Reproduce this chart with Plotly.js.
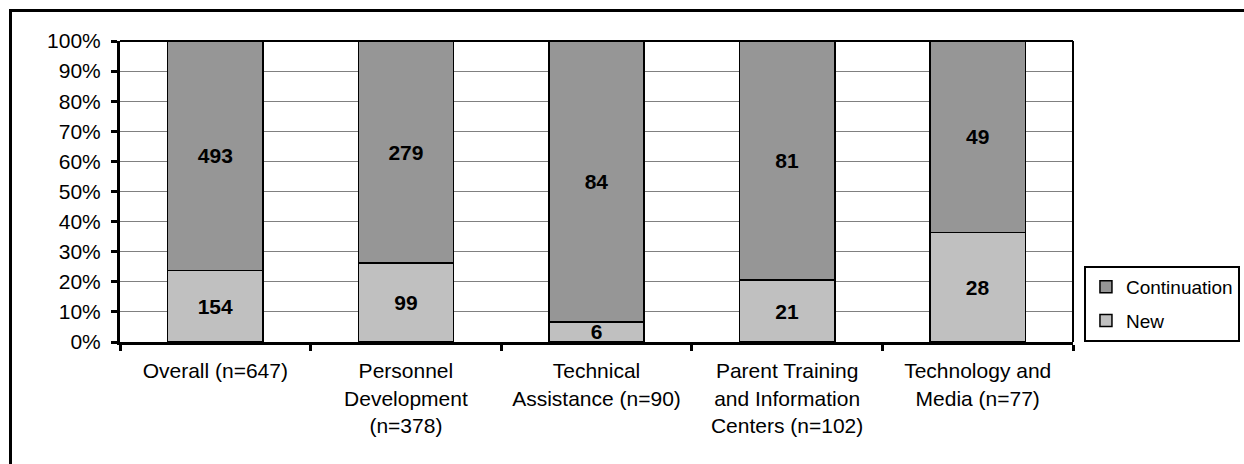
<!DOCTYPE html>
<html>
<head>
<meta charset="utf-8">
<script src="https://cdn.plot.ly/plotly-3.0.1.min.js"></script>
<style>
html, body { margin:0; padding:0; width:1244px; height:464px; overflow:hidden; background:#fff; }
#frame { position:absolute; left:9px; top:9px; width:1300px; height:520px; border:3px solid #000; box-sizing:border-box; pointer-events:none; z-index:2; }
#chart { position:absolute; left:0; top:0; width:1244px; height:464px; }
</style>
</head>
<body>
<div id="chart"></div>
<div id="frame"></div>
<script>
const categories = [
  "Overall (n=647)",
  "Personnel<br>Development<br>(n=378)",
  "Technical<br>Assistance (n=90)",
  "Parent Training<br>and Information<br>Centers (n=102)",
  "Technology and<br>Media (n=77)"
];
const newValues = [154, 99, 6, 21, 28];
const continuationValues = [493, 279, 84, 81, 49];
const yTickVals = [0, 10, 20, 30, 40, 50, 60, 70, 80, 90, 100];
const yTickLabels = ["0%", "10%", "20%", "30%", "40%", "50%", "60%", "70%", "80%", "90%", "100%"];

const FONT = "Liberation Sans, Arial, sans-serif";
const FS = 21;

const common = {
  type: "bar",
  x: categories,
  textposition: "inside",
  insidetextanchor: "middle",
  constraintext: "none",
  textangle: 0,
  texttemplate: "%{text}",
  textfont: { family: FONT, size: FS, color: "#000", weight: "bold" },
  hoverinfo: "skip"
};

const traces = [
  Object.assign({}, common, {
    name: "New",
    legendgroup: "new",
    legendrank: 2,
    y: newValues,
    text: newValues,
    marker: { color: "#C0C0C0", line: { color: "#000", width: 1.5 } }
  }),
  Object.assign({}, common, {
    name: "Continuation",
    legendgroup: "cont",
    legendrank: 1,
    y: continuationValues,
    text: continuationValues,
    marker: { color: "#969696", line: { color: "#000", width: 1.5 } }
  })
];

const layout = {
  width: 1244,
  height: 464,
  margin: { l: 120, r: 171, t: 41, b: 122, autoexpand: false },
  paper_bgcolor: "#fff",
  plot_bgcolor: "#fff",
  barmode: "stack",
  barnorm: "percent",
  bargap: 0.5,
  font: { family: FONT, size: FS, color: "#000" },
  showlegend: true,
  legend: {
    x: 1.0115, xanchor: "left",
    y: 0.2525, yanchor: "top",
    traceorder: "grouped",
    tracegroupgap: 6,
    bordercolor: "#000", borderwidth: 2,
    bgcolor: "#fff",
    font: { family: FONT, size: 19, color: "#000" },
    itemwidth: 30
  },
  xaxis: {
    type: "category",
    showline: true, linecolor: "#000", linewidth: 3,
    ticks: "outside", tickson: "boundaries", ticklen: 6, tickwidth: 3, tickcolor: "#000",
    showgrid: false,
    ticklabelstandoff: 8,
    tickfont: { family: FONT, size: FS, color: "#000" },
    fixedrange: true
  },
  yaxis: {
    range: [0, 100],
    tickmode: "array",
    tickvals: yTickVals,
    ticktext: yTickLabels,
    showline: true, linecolor: "#000", linewidth: 3,
    ticks: "outside", ticklen: 6, tickwidth: 3, tickcolor: "#000",
    showgrid: true, gridcolor: "#808080", gridwidth: 1,
    zeroline: false,
    ticklabelstandoff: 6,
    tickfont: { family: FONT, size: FS, color: "#000" },
    fixedrange: true
  },
  shapes: [
    { type: "line", xref: "paper", yref: "paper", x0: 0, x1: 1, y0: 1, y1: 1, line: { color: "#000", width: 2 }, layer: "above" },
    { type: "line", xref: "paper", yref: "paper", x0: 1, x1: 1, y0: 0, y1: 1, line: { color: "#000", width: 2 }, layer: "above" }
  ]
};

Plotly.newPlot("chart", traces, layout, { staticPlot: true, displayModeBar: false });
</script>
</body>
</html>
